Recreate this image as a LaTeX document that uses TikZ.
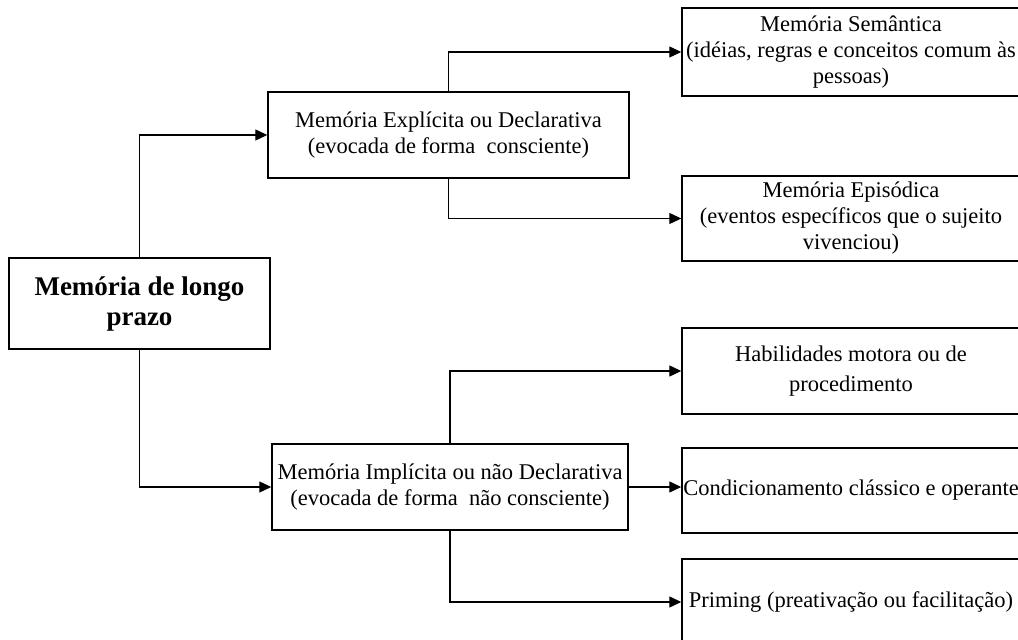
\documentclass[tikz,border=0pt]{standalone}
\usepackage{fontspec}
\setmainfont{Liberation Serif}
\usetikzlibrary{arrows.meta}
\begin{document}
\begin{tikzpicture}[x=0.5pt,y=-0.5pt,
  box/.style={draw, line width=0.7pt, inner sep=0pt, align=center,
    font=\fontsize{11.25}{13}\selectfont},
  rbox/.style={box, minimum width=169pt},
  conn/.style={line width=0.6pt, -{Triangle[length=6pt,width=5.5pt]}}]
\useasboundingbox (0,0) rectangle (1018,640);
\clip (0,0) rectangle (1018,640);
\node[box, minimum width=130.5pt, minimum height=45.5pt,
  font=\fontsize{13.5}{15}\selectfont\bfseries] (main) at (139.5,303.5)
  {Memória de longo\\prazo};
\node[box, minimum width=180.5pt, minimum height=43pt] (expl) at (448.5,135)
  {Memória Explícita ou Declarativa\\(evocada de forma\ \ consciente)};
\node[box, minimum width=178pt, minimum height=43pt] (impl) at (450,487)
  {Memória Implícita ou não Declarativa\\(evocada de forma\ \ não consciente)};
\node[rbox, minimum height=44pt] (sem) at (851,52)
  {Memória Semântica\\(idéias, regras e conceitos comum às\\pessoas)};
\node[rbox, minimum height=42.5pt] (epi) at (851,218.5)
  {Memória Episódica\\(eventos específicos que o sujeito\\vivenciou)};
\node[rbox, minimum height=43pt, font=\fontsize{11.25}{15}\selectfont] (hab) at (851,371)
  {Habilidades motora ou de\\procedimento};
\node[rbox, minimum height=42.5pt] (cond) at (851,490.5)
  {Condicionamento clássico e operante};
\node[rbox, minimum height=43pt] (prim) at (851,602)
  {Priming (preativação ou facilitação)};
\draw[conn] (main.north) |- (expl.west);
\draw[conn] (main.south) |- (impl.west);
\draw[conn] (expl.north) |- (sem.west);
\draw[conn] (expl.south) |- (epi.west);
\draw[conn] (impl.north) |- (hab.west);
\draw[conn] (impl.east) -- (impl.east -| cond.west);
\draw[conn] (impl.south) |- (prim.west);
\end{tikzpicture}
\end{document}
